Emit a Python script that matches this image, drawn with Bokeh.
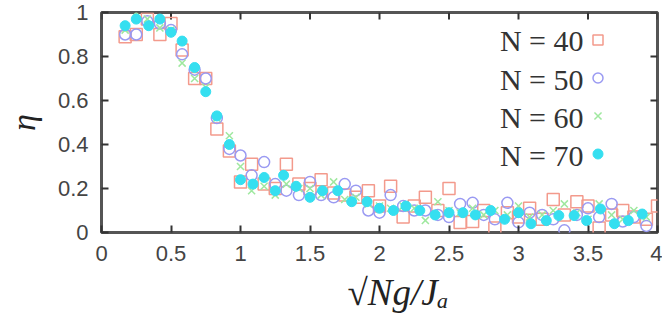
from bokeh.plotting import figure
from bokeh.models import (Range1d, FixedTicker, NumeralTickFormatter,
                          Legend, LegendItem, Label)
from bokeh.embed import file_html
from bokeh.resources import INLINE

# ---------------- data ----------------
series_labels = ["N = 40", "N = 50", "N = 60", "N = 70"]

x_n40 = [0.17, 0.25, 0.33, 0.42, 0.50, 0.58, 0.67, 0.75, 0.83, 0.92, 1.00, 1.08,
         1.17, 1.25, 1.33, 1.42, 1.50, 1.58, 1.67, 1.75, 1.83, 1.92, 2.00, 2.08,
         2.17, 2.25, 2.33, 2.42, 2.50, 2.58, 2.67, 2.75, 2.83, 2.92, 3.00, 3.08,
         3.17, 3.25, 3.33, 3.42, 3.50, 3.58, 3.67, 3.75, 3.83, 3.92, 4.00]
y_n40 = [0.89, 0.90, 0.97, 0.90, 0.95, 0.83, 0.70, 0.70, 0.47, 0.37, 0.23, 0.31,
         0.22, 0.20, 0.31, 0.22, 0.20, 0.24, 0.18, 0.17, 0.16, 0.19, 0.12, 0.21,
         0.07, 0.12, 0.16, 0.10, 0.20, 0.045, 0.05, 0.10, 0.02, 0.09, 0.07, 0.11,
         0.06, 0.15, 0.08, 0.14, 0.12, 0.02, 0.08, 0.10, 0.07, 0.06, 0.12]

x_n50 = [0.17, 0.25, 0.33, 0.42, 0.50, 0.58, 0.67, 0.75, 0.83, 0.92, 1.00, 1.08,
         1.17, 1.25, 1.33, 1.42, 1.50, 1.58, 1.67, 1.75, 1.83, 1.92, 2.00, 2.08,
         2.17, 2.25, 2.33, 2.42, 2.50, 2.58, 2.67, 2.75, 2.83, 2.92, 3.00, 3.08,
         3.17, 3.25, 3.33, 3.42, 3.50, 3.58, 3.67, 3.75, 3.83, 3.92]
y_n50 = [0.90, 0.90, 0.96, 0.95, 0.92, 0.81, 0.74, 0.70, 0.52, 0.38, 0.35, 0.26,
         0.32, 0.22, 0.19, 0.17, 0.23, 0.17, 0.16, 0.22, 0.19, 0.10, 0.09, 0.17,
         0.12, 0.10, 0.10, 0.08, 0.07, 0.13, 0.135, 0.08, 0.06, 0.135, 0.046, 0.09,
         0.08, 0.06, 0.01, 0.08, 0.11, 0.07, 0.13, 0.05, 0.07, 0.03]

x_n60 = [0.17, 0.25, 0.33, 0.42, 0.50, 0.58, 0.67, 0.75, 0.83, 0.92, 1.00, 1.08,
         1.17, 1.25, 1.33, 1.42, 1.50, 1.58, 1.67, 1.75, 1.83, 1.92, 2.00, 2.08,
         2.17, 2.25, 2.33, 2.42, 2.50, 2.58, 2.67, 2.75, 2.83, 2.92, 3.00, 3.08,
         3.17, 3.25, 3.33, 3.42, 3.50, 3.58, 3.67, 3.75, 3.83, 3.92]
y_n60 = [0.92, 1.00, 0.97, 0.93, 0.92, 0.77, 0.70, 0.66, 0.52, 0.44, 0.30, 0.19,
         0.21, 0.17, 0.22, 0.20, 0.20, 0.17, 0.23, 0.15, 0.16, 0.13, 0.12, 0.11,
         0.12, 0.11, 0.055, 0.14, 0.10, 0.09, 0.11, 0.08, 0.10, 0.08, 0.12, 0.07,
         0.08, 0.10, 0.13, 0.09, 0.06, 0.13, 0.08, 0.06, 0.10, 0.07]

x_n70 = [0.17, 0.25, 0.34, 0.42, 0.50, 0.58, 0.67, 0.75, 0.83, 0.92, 1.00, 1.09,
         1.17, 1.25, 1.31, 1.40, 1.50, 1.59, 1.70, 1.80, 1.91, 2.00, 2.10, 2.19,
         2.29, 2.40, 2.50, 2.60, 2.69, 2.80, 2.90, 3.00, 3.09, 3.20, 3.29, 3.40,
         3.49, 3.59, 3.69, 3.79, 3.89]
y_n70 = [0.94, 0.97, 0.94, 0.97, 0.91, 0.87, 0.75, 0.64, 0.53, 0.40, 0.24, 0.22,
         0.25, 0.19, 0.26, 0.21, 0.16, 0.19, 0.19, 0.14, 0.14, 0.11, 0.10, 0.12,
         0.10, 0.08, 0.09, 0.09, 0.08, 0.10, 0.06, 0.09, 0.04, 0.054, 0.077, 0.077,
         0.054, 0.107, 0.04, 0.054, 0.084]

x_ticks = [0, 0.5, 1, 1.5, 2, 2.5, 3, 3.5, 4]
y_ticks = [0, 0.2, 0.4, 0.6, 0.8, 1]

# ---------------- styling ----------------
RED = "#f39a8c"
BLUE = "#9a9af2"
GREEN = "#9fe89f"
CYAN = "#35dff0"
TICK_FONT = "Liberation Sans"
SERIF = "Liberation Serif"
X0, X1, Y0, Y1 = 0, 4, 0, 1
W, H = 662, 323
B_LEFT, B_RIGHT, B_TOP, B_BOTTOM = 101, 5, 12, 91
FRAME_W = float(W - B_LEFT - B_RIGHT)
FRAME_H = float(H - B_TOP - B_BOTTOM)
TICK_LEN = 7

p = figure(width=W, height=H, x_range=Range1d(X0, X1), y_range=Range1d(Y0, Y1),
           output_backend="svg", toolbar_location=None,
           min_border_left=B_LEFT, min_border_right=B_RIGHT, min_border_top=B_TOP,
           min_border_bottom=B_BOTTOM)
p.grid.visible = False
p.outline_line_color = "#555555"
p.outline_line_width = 3
p.background_fill_color = "white"
p.border_fill_color = "white"

xax = p.below[0]
yax = p.left[0]


def style_axis(ax, ticks):
    ax.ticker = FixedTicker(ticks=ticks)
    ax.formatter = NumeralTickFormatter(format="0.[0]")
    ax.axis_line_color = None
    ax.major_tick_in = TICK_LEN
    ax.major_tick_out = 0
    ax.major_tick_line_color = "#333333"
    ax.major_tick_line_width = 2
    ax.minor_tick_line_color = None
    ax.major_label_text_font = TICK_FONT
    ax.major_label_text_color = "#444444"
    ax.major_label_text_font_size = "22px"


style_axis(xax, x_ticks)
style_axis(yax, y_ticks)
xax.major_label_standoff = 13
yax.major_label_standoff = 13

xax.axis_label = "\u2003\u221aNg/J\u2090"
xax.axis_label_text_font = SERIF
xax.axis_label_text_font_style = "italic"
xax.axis_label_text_font_size = "37px"
xax.axis_label_text_color = "#222222"
xax.axis_label_standoff = 8

yax.axis_label = "\u03b7"
yax.axis_label_text_font = SERIF
yax.axis_label_text_font_style = "italic"
yax.axis_label_text_font_size = "34px"
yax.axis_label_text_color = "#222222"
yax.axis_label_standoff = 13

# mirrored ticks on the top and right edges (gnuplot style)
tick_dy = TICK_LEN * (Y1 - Y0) / FRAME_H
tick_dx = TICK_LEN * (X1 - X0) / FRAME_W
p.segment(x0=x_ticks, y0=[Y1] * len(x_ticks), x1=x_ticks,
          y1=[Y1 - tick_dy] * len(x_ticks), line_color="#333333", line_width=2)
p.segment(x0=[X1] * len(y_ticks), y0=y_ticks, x1=[X1 - tick_dx] * len(y_ticks),
          y1=y_ticks, line_color="#333333", line_width=2)

r40 = p.scatter(x_n40, y_n40, marker="square", size=12, fill_color=None,
                line_color=RED, line_width=1.5)
r50 = p.scatter(x_n50, y_n50, marker="circle", size=11, fill_color=None,
                line_color=BLUE, line_width=1.5)
r60 = p.scatter(x_n60, y_n60, marker="x", size=10, line_color=GREEN,
                line_width=1.5)
r70 = p.scatter(x_n70, y_n70, marker="circle", size=10, fill_color=CYAN,
                line_color=CYAN, line_width=1)

legend = Legend(items=[LegendItem(label="", renderers=[r]) for r in (r40, r50, r60, r70)],
                location=(484, 66), orientation="vertical",
                glyph_width=25, glyph_height=25, spacing=13, padding=0, margin=0,
                label_width=0, label_height=0, label_standoff=0,
                border_line_color=None, background_fill_alpha=0)
p.add_layout(legend)


def dx(px):
    return (px - B_LEFT) / FRAME_W * (X1 - X0) + X0


def dy(py):
    return (H - B_BOTTOM - py) / FRAME_H * (Y1 - Y0) + Y0


for lbl, py in zip(series_labels, [40, 79, 117, 155]):
    p.add_layout(Label(x=dx(583), y=dy(py), text=lbl, text_align="right",
                       text_baseline="middle", text_font=SERIF,
                       text_font_size="30px", text_color="#333333"))

open("out.html", "w").write(file_html(p, INLINE))
